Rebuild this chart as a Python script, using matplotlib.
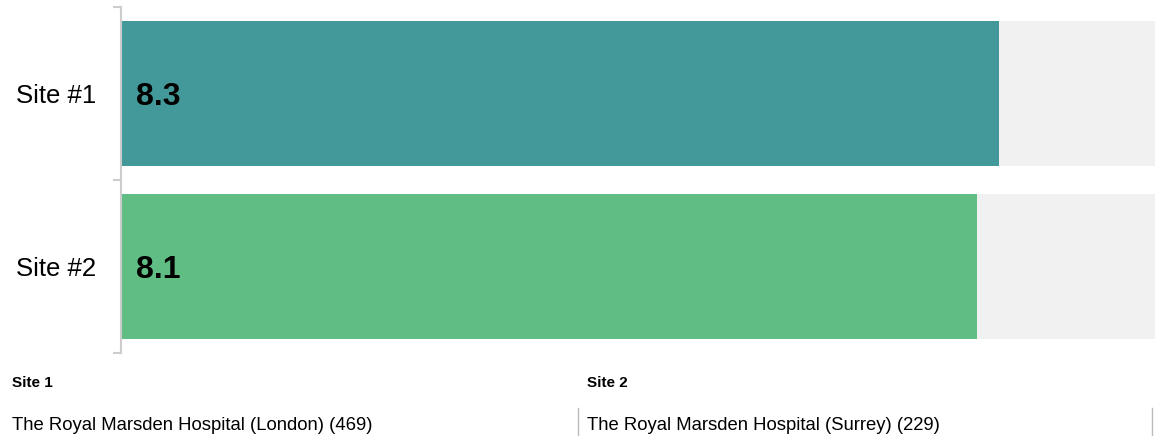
import matplotlib
matplotlib.use("Agg")
import matplotlib.pyplot as plt

plt.rcParams['font.family'] = ['Liberation Sans', 'DejaVu Sans']

categories = ["Site #1", "Site #2"]
values = [8.3, 8.1]
max_value = 10
bar_colors = ["#439999", "#60BD84"]
site_titles = ["Site 1", "Site 2"]
site_names = ["The Royal Marsden Hospital (London) (469)",
              "The Royal Marsden Hospital (Surrey) (229)"]

W, H = 1155, 436
fig = plt.figure(figsize=(W / 100, H / 100), dpi=100)
ax = fig.add_axes([121 / W, 1 - 353 / H, 1 - 121 / W, (353 - 7) / H])

pos = list(range(len(categories)))
ax.barh(pos, [max_value] * len(values), height=0.84, color="#F1F1F1", zorder=1)
ax.barh(pos, values, height=0.84, color=bar_colors, zorder=2)
for p, v in zip(pos, values):
    ax.annotate(f"{v:.1f}", xy=(0, p), xytext=(11, -2.5), textcoords="offset points",
                ha="left", va="center", fontsize=23, fontweight="bold", color="black",
                zorder=3)

ax.set_xlim(0, 9.78)
ax.set_ylim(len(categories) - 0.5, -0.5)
ax.set_yticks(pos)
ax.set_yticklabels(categories, fontsize=18.5)
ax.tick_params(axis="y", which="major", length=0, pad=18)
ax.set_yticks([p - 0.5 for p in pos] + [pos[-1] + 0.5], minor=True)
ax.tick_params(axis="y", which="minor", length=6, color="#CCCCCC", width=1.5)
ax.set_xticks([])
for s in ["top", "right", "bottom"]:
    ax.spines[s].set_visible(False)
ax.spines["left"].set_color("#CCCCCC")
ax.spines["left"].set_linewidth(1.5)

xs = [12, 587]
for x, t, n in zip(xs, site_titles, site_names):
    fig.text(x / W, 1 - 383 / H, t, fontsize=11, fontweight="bold", va="center", ha="left")
    fig.text(x / W, 1 - 425 / H, n, fontsize=13.3, va="center", ha="left")
for lx in [578, 1152]:
    fig.add_artist(plt.Line2D([lx / W, lx / W], [0, 1 - 408 / H], color="#BBBBBB", lw=1))

fig.savefig("out.png", dpi=100)
